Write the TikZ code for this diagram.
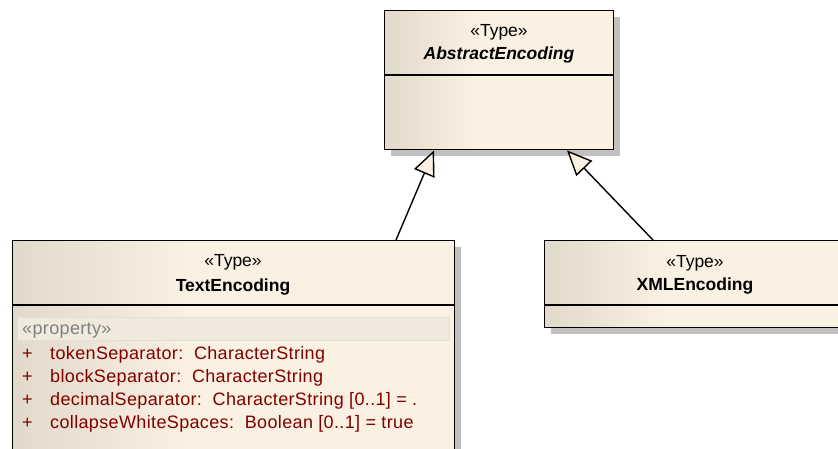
\documentclass[tikz,border=0pt]{standalone}
\usepackage{fontspec}
\setmainfont{Liberation Sans}
\newfontfamily\attrfont[LetterSpace=2]{Liberation Sans}
\usetikzlibrary{arrows.meta,shadows}
\definecolor{umldk}{RGB}{226,217,202}
\definecolor{umllt}{RGB}{251,241,227}
\definecolor{attrred}{RGB}{128,0,0}
\definecolor{stgray}{RGB}{128,128,128}
\definecolor{propfill}{RGB}{240,233,222}
\definecolor{propline}{RGB}{228,222,212}
\definecolor{shgray}{RGB}{192,192,192}
\pgfdeclarehorizontalshading{umlshade}{100bp}{color(0bp)=(umldk); color(25bp)=(umldk); color(45bp)=(umllt); color(100bp)=(umllt)}
\tikzset{
  umlbox/.style={draw=black, line width=1.4pt, shading=umlshade, anchor=north west, inner sep=0pt,
    drop shadow={shadow xshift=6pt, shadow yshift=-6pt, fill=shgray, opacity=1}},
  sepline/.style={line width=1.4pt},
  ttl/.style={font=\fontsize{17.5}{21}\selectfont, anchor=base, inner sep=0pt},
  ttlb/.style={font=\fontsize{17.5}{21}\selectfont\bfseries, anchor=base, inner sep=0pt},
  ttlbi/.style={font=\fontsize{17.5}{21}\selectfont\bfseries\itshape, anchor=base, inner sep=0pt},
  attr/.style={font=\attrfont\fontsize{18}{21}\selectfont, text=attrred, anchor=base west, inner sep=0pt},
  stereo/.style={font=\attrfont\fontsize{18}{21}\selectfont, text=stgray, anchor=base west, inner sep=0pt},
  gen/.style={line width=1.4pt, -{Triangle[length=25pt, width=22pt, fill=umllt, line width=1.4pt]}}
}
\begin{document}
\begin{tikzpicture}[x=1pt,y=-1pt]
\useasboundingbox (0,0) rectangle (838,449);
% AbstractEncoding
\node[umlbox, minimum width=229pt, minimum height=139pt] (ae) at (384,10) {};
\draw[sepline] (ae.west |- 0,75) -- (ae.east |- 0,75);
\node[ttl] (aest) at (499,37) {«Type»};
\node[ttlbi] (aename) at (499,60) {AbstractEncoding};
% TextEncoding
\node[umlbox, minimum width=442pt, minimum height=230pt] (te) at (12,240) {};
\draw[sepline] (te.west |- 0,305) -- (te.east |- 0,305);
\node[ttl] (test) at (233,266) {«Type»};
\node[ttlb] (tename) at (233,291) {TextEncoding};
\path[fill=propfill, draw=propline, line width=0.8pt] (17,317) rectangle (449,340);
\node[stereo] (prop) at (22,334) {«property»};
\node[attr] (p1) at (22,359) {+};
\node[attr] (a1) at (50,359) {tokenSeparator:\ \ CharacterString};
\node[attr] (p2) at (22,382) {+};
\node[attr] (a2) at (50,382) {blockSeparator:\ \ CharacterString};
\node[attr] (p3) at (22,405) {+};
\node[attr] (a3) at (50,405) {decimalSeparator:\ \ CharacterString [0..1] = .};
\node[attr] (p4) at (22,428) {+};
\node[attr] (a4) at (50,428) {collapseWhiteSpaces:\ \ Boolean [0..1] = true};
% XMLEncoding
\node[umlbox, minimum width=302pt, minimum height=87pt] (xe) at (544,240) {};
\draw[sepline] (xe.west |- 0,305) -- (xe.east |- 0,305);
\node[ttl] (xest) at (695,267) {«Type»};
\node[ttlb] (xename) at (695,290) {XMLEncoding};
% generalizations
\coordinate (t1) at (te.north -| 396,0);
\coordinate (h1) at (ae.south -| 434,0);
\coordinate (t2) at (xe.north -| 653,0);
\coordinate (h2) at (ae.south -| 567,0);
\draw[gen] (t1) -- (h1);
\draw[gen] (t2) -- (h2);
\end{tikzpicture}
\end{document}
